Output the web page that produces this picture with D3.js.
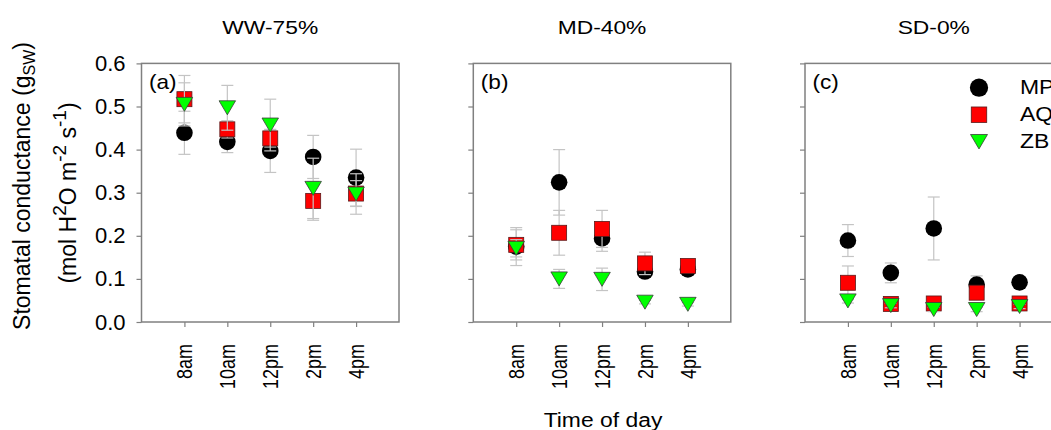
<!DOCTYPE html>
<html>
<head>
<meta charset="utf-8">
<script src="https://cdn.jsdelivr.net/npm/d3@7"></script>
<style>
  body { margin: 0; background: #fff; }
  text { font-family: "Liberation Sans", Arial, sans-serif; fill: #000; }
</style>
</head>
<body>
<div id="chart"></div>
<script>
const times = ["8am", "10am", "12pm", "2pm", "4pm"];
const panelTitles = ["WW-75%", "MD-40%", "SD-0%"];
const panelTags = ["(a)", "(b)", "(c)"];
const seriesNames = ["MP", "AQ", "ZB"];
const yTicks = [0, 0.1, 0.2, 0.3, 0.4, 0.5, 0.6];

// WW-75%
const wwMP = [0.439, 0.418, 0.397, 0.383, 0.335];
const wwMPErr = [0.050, 0.025, 0.050, 0.050, 0.066];
const wwAQ = [0.517, 0.447, 0.426, 0.281, 0.298];
const wwAQErr = [0.055, 0.020, 0.020, 0.045, 0.030];
const wwZB = [0.505, 0.497, 0.457, 0.310, 0.297];
const wwZBErr = [0.050, 0.052, 0.060, 0.070, 0.047];

// MD-40%
const mdMP = [0.175, 0.324, 0.194, 0.117, 0.122];
const mdMPErr = [0.044, 0.076, 0.030, 0.009, 0.008];
const mdAQ = [0.179, 0.207, 0.216, 0.136, 0.130];
const mdAQErr = [0.035, 0.052, 0.043, 0.026, 0.008];
const mdZB = [0.171, 0.100, 0.099, 0.046, 0.041];
const mdZBErr = [0.020, 0.022, 0.026, 0.004, 0.004];

// SD-0%
const sdMP = [0.189, 0.114, 0.217, 0.087, 0.092];
const sdMPErr = [0.037, 0.023, 0.073, 0.020, 0.006];
const sdAQ = [0.091, 0.042, 0.043, 0.068, 0.043];
const sdAQErr = [0.039, 0.005, 0.005, 0.010, 0.005];
const sdZB = [0.049, 0.038, 0.029, 0.029, 0.036];
const sdZBErr = [0.005, 0.005, 0.005, 0.005, 0.005];

const panels = [
  [[wwMP, wwMPErr], [wwAQ, wwAQErr], [wwZB, wwZBErr]],
  [[mdMP, mdMPErr], [mdAQ, mdAQErr], [mdZB, mdZBErr]],
  [[sdMP, sdMPErr], [sdAQ, sdAQErr], [sdZB, sdZBErr]]
];

const width = 1051, height = 430;
const panelLeft = [141.5, 473.3, 805];
const panelW = 257.5, plotTop = 63.4, plotBottom = 322;
const frameColor = "#808080";
const errColor = "#c4c4c4";

const svg = d3.select("#chart").append("svg")
  .attr("width", width)
  .attr("height", height);

const y = d3.scaleLinear().domain([0, 0.6]).range([plotBottom, plotTop]);
const x = d3.scalePoint().domain(times).range([0, panelW]).padding(1);

// marker drawing
function marker(sel, name, cx, cy, k) {
  k = k || 1;
  if (name === "MP") {
    sel.append("circle").attr("cx", cx).attr("cy", cy).attr("r", 8.3 * k)
      .attr("fill", "#000");
  } else if (name === "AQ") {
    const s = 15 * k;
    sel.append("rect").attr("x", cx - s / 2).attr("y", cy - s / 2)
      .attr("width", s).attr("height", s)
      .attr("fill", "#ff0000").attr("stroke", "#5a1a1a").attr("stroke-width", 0.8);
  } else {
    const w = 16.5 * k, h = 14 * k;
    sel.append("path")
      .attr("d", `M${cx - w / 2},${cy - h / 2}L${cx + w / 2},${cy - h / 2}L${cx},${cy + h / 2}Z`)
      .attr("fill", "#00ff00").attr("stroke", "#3a3a3a").attr("stroke-width", 0.8);
  }
}

panels.forEach(function(series, p) {
  const g = svg.append("g").attr("transform", `translate(${panelLeft[p]},0)`);

  // y axis
  const yAxis = d3.axisLeft(y)
    .tickValues(yTicks)
    .tickSize(5)
    .tickPadding(11)
    .tickFormat(p === 0 ? d3.format(".1f") : "");
  const ya = g.append("g").call(yAxis);
  ya.select(".domain").remove();
  ya.selectAll("line").attr("stroke", frameColor).attr("stroke-width", 1.2);
  ya.selectAll("text").attr("font-size", 22).style("font-family", '"Liberation Sans", Arial, sans-serif');

  // x axis
  const xAxis = d3.axisBottom(x).tickSize(5);
  const xa = g.append("g").attr("transform", `translate(0,${plotBottom})`).call(xAxis);
  xa.select(".domain").remove();
  xa.selectAll("line").attr("stroke", frameColor).attr("stroke-width", 1.2);
  xa.selectAll("text")
    .attr("font-size", 18)
    .style("font-family", '"Liberation Sans", Arial, sans-serif')
    .attr("text-anchor", "end")
    .attr("x", -22)
    .attr("y", 0)
    .attr("dy", "0.35em")
    .attr("transform", "rotate(-90) scale(1,1.2)");

  // frame
  g.append("rect")
    .attr("x", 0).attr("y", plotTop)
    .attr("width", panelW).attr("height", plotBottom - plotTop)
    .attr("fill", "none").attr("stroke", frameColor).attr("stroke-width", 1.5);

  // title
  g.append("text")
    .attr("transform", `translate(${panelW / 2},34) scale(1.2,1)`)
    .attr("text-anchor", "middle")
    .attr("font-size", 19)
    .text(panelTitles[p]);

  // panel tag
  g.append("text")
    .attr("transform", `translate(7.5,89) scale(1.13,1)`)
    .attr("font-size", 20)
    .text(panelTags[p]);

  // series: error bars then markers
  series.forEach(function([vals, errs], s) {
    const name = seriesNames[s];
    const sg = g.append("g");
    vals.forEach(function(v, i) {
      const cx = x(times[i]);
      const hi = y(v + errs[i]), lo = y(v - errs[i]);
      sg.append("line").attr("x1", cx).attr("x2", cx).attr("y1", hi).attr("y2", lo)
        .attr("stroke", errColor).attr("stroke-width", 1.2);
      [hi, lo].forEach(function(yy) {
        sg.append("line").attr("x1", cx - 6).attr("x2", cx + 6).attr("y1", yy).attr("y2", yy)
          .attr("stroke", errColor).attr("stroke-width", 1.2);
      });
      marker(sg, name, cx, y(v));
    });
  });
});

// legend in panel (c)
const legend = svg.append("g").attr("transform", "translate(979,87.7)");
seriesNames.forEach(function(name, i) {
  const row = legend.append("g").attr("transform", `translate(0,${i * 27})`);
  marker(row, name, 0, 0, name === "MP" ? 1.1 : 1.03);
  row.append("text")
    .attr("transform", "translate(41,6.5) scale(1.12,1)")
    .attr("font-size", 20.5)
    .text(name);
});

// y axis label
const yl = svg.append("g");
const l1 = yl.append("text")
  .attr("transform", "translate(30,186) rotate(-90)")
  .attr("text-anchor", "middle")
  .attr("font-size", 23);
l1.append("tspan").text("Stomatal conductance (g");
l1.append("tspan").attr("font-size", 16).attr("dy", 5).text("SW");
l1.append("tspan").attr("dy", -5).text(")");

const l2 = yl.append("text")
  .attr("transform", "translate(76,193) rotate(-90)")
  .attr("text-anchor", "middle")
  .attr("font-size", 23);
l2.append("tspan").text("(mol H");
l2.append("tspan").attr("font-size", 19).attr("dy", -10).text("2");
l2.append("tspan").attr("dy", 10).text("O m");
l2.append("tspan").attr("font-size", 19).attr("dy", -10).text("-2");
l2.append("tspan").attr("dy", 10).text(" s");
l2.append("tspan").attr("font-size", 19).attr("dy", -10).text("-1");
l2.append("tspan").attr("dy", 10).text(")");

// x axis label
svg.append("text")
  .attr("transform", "translate(603,426.5) scale(1.09,1)")
  .attr("text-anchor", "middle")
  .attr("font-size", 21)
  .text("Time of day");
</script>
</body>
</html>
